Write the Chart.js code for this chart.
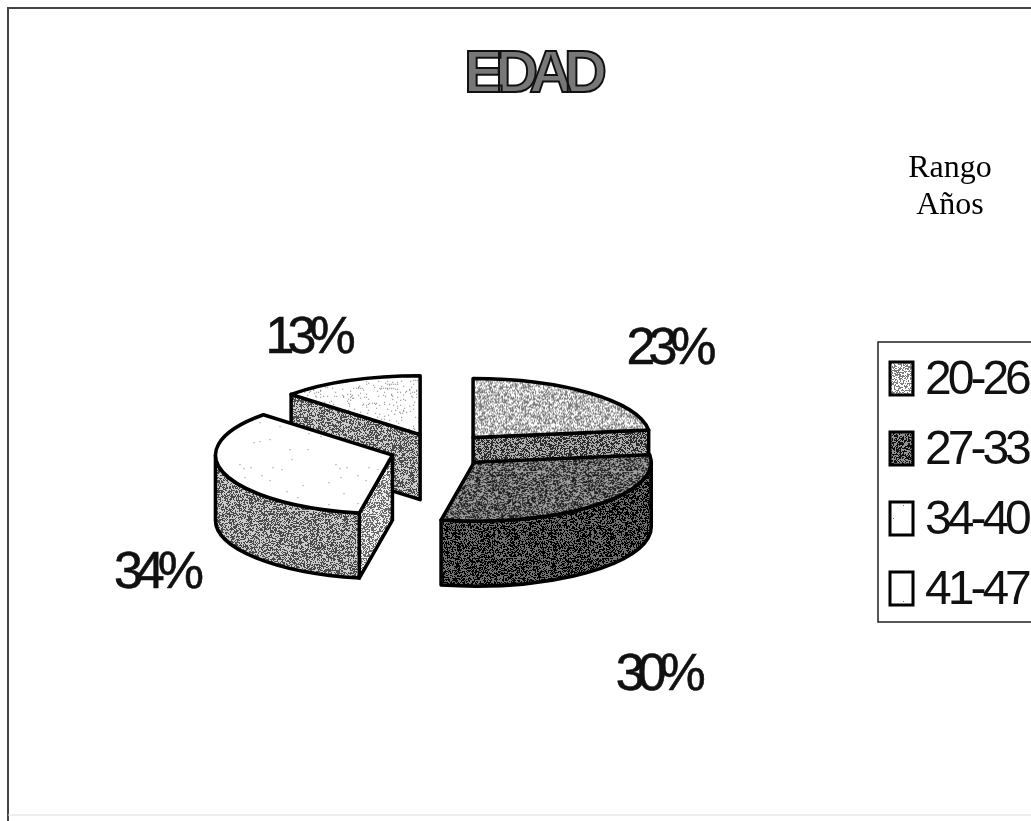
<!DOCTYPE html>
<html>
<head>
<meta charset="utf-8">
<title>EDAD</title>
<style>
  html, body { margin: 0; padding: 0; background: #fff; }
  #wrap { width: 1031px; height: 821px; }
</style>
<script src="https://cdn.jsdelivr.net/npm/chart.js@4/dist/chart.umd.js"></script>
</head>
<body>
<div id="wrap"><canvas id="myChart" width="1031" height="821"></canvas></div>
<script>
const categories = ['20-26', '27-33', '34-40', '41-47']
const percents = [23, 30, 34, 13]
const chartTitle = 'EDAD'
const sideNote = ['Rango', 'Años']

// grey levels of the scan, 0 black - 255 white
const topGreys = [190, 96, 255, 243]
const arcWallGreys = [110, 44, 138, 140]
const cutWallGreys = [108, 44, 172, 140]
const legendGreys = [190, 80, 255, 255]

// where each % label sits relative to the point of its slice
const labelShift = [[195, -88], [183, 214], [-237, 119], [-113, -96]]

const explode = 50
const tilt = 1 / 3
const depth = 65
const outline = 3.5
const sansFont = '"Liberation Sans", Arial, sans-serif'

function grain(grey, stretchY) {
    const size = 96
    const tile = document.createElement('canvas')
    tile.width = size
    tile.height = size
    const tctx = tile.getContext('2d')
    const img = tctx.createImageData(size, size)
    let seed = 12345 + grey
    for (let i = 0; i < size * size; i++) {
        seed = (seed * 1103515245 + 12345) & 0x7fffffff
        const v = (seed >> 8) % 256
        let shade
        if (grey >= 235) shade = v < grey ? 255 : 120
        else shade = v < 128 ? Math.min(255, grey + 65) : Math.max(0, grey - 65)
        img.data[i * 4] = shade
        img.data[i * 4 + 1] = shade
        img.data[i * 4 + 2] = shade
        img.data[i * 4 + 3] = 255
    }
    tctx.putImageData(img, 0, 0)
    const pattern = tctx.createPattern(tile, 'repeat')
    if (stretchY) pattern.setTransform(new DOMMatrix().scale(1, stretchY))
    return pattern
}

const legendFills = legendGreys.map(g => grain(g))
const arcWallFills = arcWallGreys.map(g => grain(g))
const cutWallFills = cutWallGreys.map(g => grain(g))

function midAngle(arc) {
    return (arc.startAngle + arc.endAngle) / 2
}

function place(ctx, arc, drop) {
    const mid = midAngle(arc)
    ctx.translate(arc.x, arc.y + drop)
    ctx.scale(1, tilt)
    ctx.translate(-arc.x, -arc.y)
    ctx.translate(Math.cos(mid) * explode, Math.sin(mid) * explode)
}

function inked(ctx, fill) {
    ctx.save()
    ctx.setTransform(1, 0, 0, 1, 0, 0)
    ctx.fillStyle = fill
    ctx.fill()
    ctx.lineWidth = outline
    ctx.lineJoin = 'round'
    ctx.strokeStyle = '#000'
    ctx.stroke()
    ctx.restore()
}

function arcWall(ctx, arc, fill) {
    const from = Math.max(arc.startAngle, 0)
    const to = Math.min(arc.endAngle, Math.PI)
    if (to <= from) return
    ctx.save()
    ctx.beginPath()
    place(ctx, arc, 0)
    ctx.arc(arc.x, arc.y, arc.outerRadius, from, to)
    ctx.restore()
    ctx.save()
    place(ctx, arc, depth)
    ctx.arc(arc.x, arc.y, arc.outerRadius, to, from, true)
    ctx.closePath()
    inked(ctx, fill)
    ctx.restore()
}

function cutWall(ctx, arc, angle, fill) {
    const tipX = arc.x + Math.cos(angle) * arc.outerRadius
    const tipY = arc.y + Math.sin(angle) * arc.outerRadius
    ctx.save()
    ctx.beginPath()
    place(ctx, arc, 0)
    ctx.moveTo(arc.x, arc.y)
    ctx.lineTo(tipX, tipY)
    ctx.restore()
    ctx.save()
    place(ctx, arc, depth)
    ctx.lineTo(tipX, tipY)
    ctx.lineTo(arc.x, arc.y)
    ctx.closePath()
    inked(ctx, fill)
    ctx.restore()
}

function drawSlice(ctx, arc, i) {
    if (Math.cos(arc.startAngle) < -1e-6) cutWall(ctx, arc, arc.startAngle, cutWallFills[i])
    if (Math.cos(arc.endAngle) > 1e-6) cutWall(ctx, arc, arc.endAngle, cutWallFills[i])
    arcWall(ctx, arc, arcWallFills[i])

    ctx.save()
    place(ctx, arc, 0)
    arc.draw(ctx)
    ctx.beginPath()
    ctx.moveTo(arc.x, arc.y)
    ctx.arc(arc.x, arc.y, arc.outerRadius, arc.startAngle, arc.endAngle)
    ctx.closePath()
    ctx.setTransform(1, 0, 0, 1, 0, 0)
    ctx.lineWidth = outline
    ctx.lineJoin = 'round'
    ctx.strokeStyle = '#000'
    ctx.stroke()
    ctx.restore()
}

function drawLegend(ctx) {
    ctx.strokeStyle = '#222'
    ctx.lineWidth = 1.5
    ctx.strokeRect(878, 342, 200, 280)
    ctx.textAlign = 'left'
    ctx.textBaseline = 'middle'
    ctx.font = '48px ' + sansFont
    ctx.letterSpacing = '-4px'
    categories.forEach((text, i) => {
        const rowY = 379 + i * 70
        ctx.fillStyle = legendFills[i]
        ctx.fillRect(890, rowY - 17, 23, 33)
        ctx.strokeStyle = '#000'
        ctx.lineWidth = 3
        ctx.strokeRect(890, rowY - 17, 23, 33)
        ctx.fillStyle = '#111'
        ctx.fillText(text, 925, rowY + 2)
    })
}

const pie3d = {
    id: 'pie3d',
    beforeDraw(chart) {
        const ctx = chart.ctx
        ctx.save()
        ctx.fillStyle = '#fff'
        ctx.fillRect(0, 0, chart.width, chart.height)
        ctx.strokeStyle = '#444'
        ctx.lineWidth = 2
        ctx.beginPath()
        ctx.moveTo(chart.width, 8)
        ctx.lineTo(8, 8)
        ctx.lineTo(8, chart.height)
        ctx.stroke()
        ctx.strokeStyle = '#ddd'
        ctx.lineWidth = 1
        ctx.beginPath()
        ctx.moveTo(8, chart.height - 6)
        ctx.lineTo(chart.width, chart.height - 6)
        ctx.stroke()
        ctx.restore()
        // the title text is packed tight in the scan
        ctx.letterSpacing = '-9px'
    },
    afterLayout(chart) {
        const tb = chart.titleBlock
        tb.left = 231
        tb.right = 831
        tb.top = 39
        tb.bottom = 111
    },
    beforeDatasetDraw(chart) {
        const arcs = chart.getDatasetMeta(0).data
        const order = arcs.map((_, i) => i).sort((a, b) =>
            Math.sin(midAngle(arcs[a])) - Math.sin(midAngle(arcs[b])))
        order.forEach(i => drawSlice(chart.ctx, arcs[i], i))
        return false
    },
    afterDraw(chart) {
        const ctx = chart.ctx
        const arcs = chart.getDatasetMeta(0).data
        ctx.save()
        // black rim round the grey title letters
        ctx.font = 'bold 60px ' + sansFont
        ctx.letterSpacing = '-9px'
        ctx.textAlign = 'center'
        ctx.textBaseline = 'middle'
        ctx.strokeStyle = '#111'
        ctx.lineWidth = 2
        ctx.strokeText(chartTitle, 531, 75)

        ctx.fillStyle = '#111'
        ctx.strokeStyle = '#111'
        ctx.lineWidth = 0.6
        ctx.font = '52px ' + sansFont
        ctx.letterSpacing = '-7px'
        arcs.forEach((arc, i) => {
            const mid = midAngle(arc)
            const px = arc.x + Math.cos(mid) * explode
            const py = arc.y + Math.sin(mid) * explode * tilt
            ctx.fillText(percents[i] + '%', px + labelShift[i][0], py + labelShift[i][1])
            ctx.strokeText(percents[i] + '%', px + labelShift[i][0], py + labelShift[i][1])
        })
        drawLegend(ctx)
        ctx.letterSpacing = '0px'
        ctx.textAlign = 'center'
        ctx.font = '32px "Liberation Serif", "Times New Roman", serif'
        ctx.fillStyle = '#000'
        ctx.fillText(sideNote[0], 950, 169)
        ctx.fillText(sideNote[1], 950, 206)
        ctx.restore()
    }
}

const ctx = document.getElementById('myChart').getContext('2d')
const myChart = new Chart(ctx, {
    type: 'pie',
    plugins: [pie3d],
    data: {
        labels: categories,
        datasets: [{
            data: percents,
            backgroundColor: topGreys.map(g => grain(g, 1 / tilt)),
            borderWidth: 0,
            radius: 177,
        }]
    },
    options: {
        responsive: false,
        animation: false,
        // chart area centred on the pie
        layout: { padding: { left: 60, right: 211, top: 0, bottom: 0 } },
        plugins: {
            tooltip: { enabled: false },
            legend: { display: false },
            title: {
                display: true,
                text: chartTitle,
                color: '#777',
                font: { family: sansFont, size: 60, weight: 'bold' },
                padding: { top: 0, bottom: 7 },
            },
        },
    }
})
</script>
</body>
</html>
